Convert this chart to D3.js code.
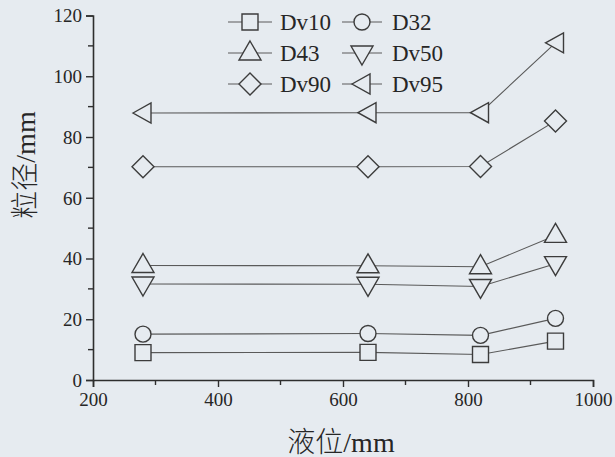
<!DOCTYPE html>
<html><head><meta charset="utf-8">
<script src="https://cdn.jsdelivr.net/npm/d3@7"></script>
<style>
html,body{margin:0;padding:0;background:#e6ebf0;}
svg{display:block;}
text{font-family:"Liberation Serif","Noto Sans CJK SC",serif;fill:#262626;}
.title{font-weight:300;}
</style></head>
<body>
<svg id="c" width="615" height="457"></svg>
<script>
const levels = [280, 640, 820, 940];
const seriesNames = ["Dv10", "D32", "D43", "Dv50", "Dv90", "Dv95"];
const dv10 = [9.0, 9.1, 8.4, 12.8];
const d32 = [15.1, 15.3, 14.7, 20.3];
const d43 = [37.7, 37.6, 37.3, 47.6];
const dv50 = [31.6, 31.5, 30.8, 38.3];
const dv90 = [70.2, 70.2, 70.3, 85.3];
const dv95 = [87.9, 88.0, 88.0, 111.0];
const xTicks = [200, 400, 600, 800, 1000];
const yTicks = [0, 20, 40, 60, 80, 100, 120];
const xTitle = "液位/mm";
const yTitle = "粒径/mm";

const values = [dv10, d32, d43, dv50, dv90, dv95];
const shapes = ["square", "circle", "triUp", "triDown", "diamond", "triLeft"];
const bg = "#e6ebf0";
const lineCol = "#5a5a5a";
const markCol = "#3c3c3c";

const svg = d3.select("#c");
const x = d3.scaleLinear().domain([200, 1000]).range([93, 593]);
const y = d3.scaleLinear().domain([0, 120]).range([380, 15.5]);

function markerPath(shape) {
  const p = d3.path();
  if (shape === "square") { p.rect(-8, -8, 16, 16); }
  else if (shape === "circle") { p.arc(0, 0, 8, 0, 2 * Math.PI); p.closePath(); }
  else if (shape === "triUp") { p.moveTo(0, -12); p.lineTo(11, 7); p.lineTo(-11, 7); p.closePath(); }
  else if (shape === "triDown") { p.moveTo(0, 12); p.lineTo(11, -7); p.lineTo(-11, -7); p.closePath(); }
  else if (shape === "diamond") { p.moveTo(0, -11); p.lineTo(11, 0); p.lineTo(0, 11); p.lineTo(-11, 0); p.closePath(); }
  else if (shape === "triLeft") { p.moveTo(-10, 0); p.lineTo(8, -10); p.lineTo(8, 10); p.closePath(); }
  return p.toString();
}

// axes
const minorX = [300, 500, 700, 900];
const minorY = [10, 30, 50, 70, 90, 110];
const gx = svg.append("g").attr("transform", "translate(0,380)");
gx.call(d3.axisBottom(x).tickValues(xTicks).tickSize(7).tickPadding(5).tickFormat(d3.format("d")));
gx.append("g").selectAll("line").data(minorX).join("line")
  .attr("x1", d => x(d)).attr("x2", d => x(d)).attr("y1", 0).attr("y2", 5);
const gy = svg.append("g").attr("transform", "translate(93,0)");
gy.call(d3.axisLeft(y).tickValues(yTicks).tickSize(7).tickPadding(4).tickFormat(d3.format("d")));
gy.append("g").selectAll("line").data(minorY).join("line")
  .attr("y1", d => y(d)).attr("y2", d => y(d)).attr("x1", 0).attr("x2", -5);
[gx, gy].forEach(g => {
  g.attr("font-family", null);
  g.select(".domain").attr("stroke", "#2e2e2e").attr("stroke-width", 1.6);
  g.selectAll("line").attr("stroke", "#2e2e2e").attr("stroke-width", 1.4);
  g.selectAll("text").style("font-size", "19px").attr("fill", "#262626");
});
gx.selectAll(".tick text").attr("dy", "0.75em");
gy.selectAll(".tick text").attr("dy", "0.34em");

// titles
svg.append("text").attr("class", "title").attr("x", 341).attr("y", 452).attr("text-anchor", "middle")
  .style("font-size", "28px").text(xTitle);
svg.append("text").attr("class", "title").attr("transform", "translate(35,165) rotate(-90)").attr("text-anchor", "middle")
  .style("font-size", "28px").text(yTitle);

// series
const line = d3.line().x((d, i) => x(levels[i])).y(d => y(d));
values.forEach((vals, si) => {
  svg.append("path").attr("d", line(vals)).attr("fill", "none")
    .attr("stroke", lineCol).attr("stroke-width", 1.1);
});
values.forEach((vals, si) => {
  svg.append("g").selectAll("path").data(vals).join("path")
    .attr("transform", (d, i) => `translate(${x(levels[i])},${y(d)})`)
    .attr("d", markerPath(shapes[si]))
    .attr("fill", bg).attr("stroke", markCol).attr("stroke-width", 1.4);
});

// legend
const legCols = [{lx1: 228, lx2: 272, mx: 250, tx: 280}, {lx1: 342, lx2: 382, mx: 362, tx: 392}];
const legRows = [22, 53, 84];
seriesNames.forEach((name, i) => {
  const c = legCols[i % 2], ry = legRows[Math.floor(i / 2)];
  const g = svg.append("g");
  g.append("line").attr("x1", c.lx1).attr("x2", c.lx2).attr("y1", ry).attr("y2", ry)
    .attr("stroke", lineCol).attr("stroke-width", 1.1);
  g.append("path").attr("transform", `translate(${c.mx},${ry})`).attr("d", markerPath(shapes[i]))
    .attr("fill", bg).attr("stroke", markCol).attr("stroke-width", 1.4);
  g.append("text").attr("x", c.tx).attr("y", ry).attr("dy", "0.35em")
    .style("font-size", "23px").text(name);
});
</script>
</body></html>
